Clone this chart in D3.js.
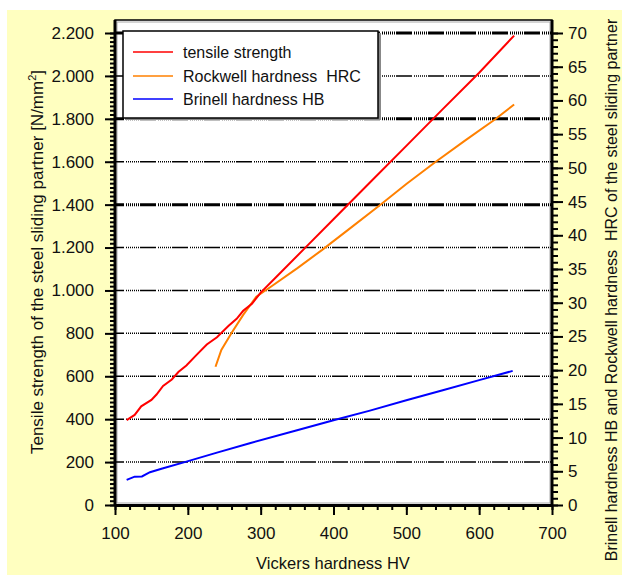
<!DOCTYPE html>
<html>
<head>
<meta charset="utf-8">
<script src="https://cdn.jsdelivr.net/npm/d3@7"></script>
<style>
  body { margin: 0; background: #fff; }
  svg text { font-family: "Liberation Sans", Arial, sans-serif; fill: #111; white-space: pre; }
</style>
</head>
<body>
<svg id="chart"></svg>
<script>
var width = 622
var height = 575

// tensile strength [N/mm2] vs Vickers HV (left axis)
var tensileHV = [116, 127, 136, 150, 157, 166, 178, 187, 198, 212, 226, 240, 256, 267, 276, 288, 300, 320, 360, 400, 450, 500, 550, 600, 648]
var tensile   = [396, 420, 460, 490, 515, 555, 585, 620, 650, 700, 748, 782, 835, 868, 905, 938, 990, 1058, 1195, 1332, 1503, 1674, 1845, 2015, 2188]

// Rockwell HRC (right axis)
var rockwellHV = [238, 246, 260, 276, 294, 313, 350, 384, 420, 464, 500, 539, 580, 622, 648]
var rockwell   = [20.5, 23, 25.5, 28.2, 30.9, 32.3, 35.1, 37.8, 40.8, 44.5, 47.6, 50.8, 54.0, 57.2, 59.4]

// Brinell HB (plotted on left axis scale)
var brinellHV = [116, 127, 137, 148, 165, 198, 240, 285, 350, 400, 450, 500, 550, 600, 646]
var brinell   = [117, 132, 133, 153, 170, 202, 244, 288, 348, 395, 440, 488, 535, 582, 625]

var xTicks = [100, 200, 300, 400, 500, 600, 700]
var leftTicks = [0, 200, 400, 600, 800, 1000, 1200, 1400, 1600, 1800, 2000, 2200]
var rightTicks = [0, 5, 10, 15, 20, 25, 30, 35, 40, 45, 50, 55, 60, 65, 70]
var gridValues = [200, 400, 600, 800, 1000, 1200, 1400, 1600, 1800, 2000, 2200]
var thickGrid = [1400, 1800, 2200]

var legendNames = ["tensile strength", "Rockwell hardness  HRC", "Brinell hardness HB"]
var legendColors = ["#ff0000", "#ff8000", "#0000ff"]

var pLeft = 115, pRight = 552, pTop = 20, pBottom = 505

var x = d3.scaleLinear().domain([100, 700]).range([pLeft, pRight])
var yL = d3.scaleLinear().domain([0, 2200]).range([pBottom, 33])
var yR = d3.scaleLinear().domain([0, 70]).range([pBottom, 33])

var de = d3.formatLocale({decimal: ",", thousands: ".", grouping: [3], currency: ["", ""]})

var svg = d3.select("#chart")
  .attr("width", width)
  .attr("height", height)

// yellow background
svg.append("rect")
  .attr("x", 7).attr("y", 10)
  .attr("width", width - 7).attr("height", height - 10)
  .attr("fill", "#ffffc0")

// plot area
svg.append("rect")
  .attr("x", pLeft).attr("y", pTop)
  .attr("width", pRight - pLeft).attr("height", pBottom - pTop)
  .attr("fill", "#fff")
  .attr("stroke", "#000")
  .attr("stroke-width", 1.5)
svg.append("rect")
  .attr("x", pLeft + 2).attr("y", pTop + 2)
  .attr("width", pRight - pLeft - 4).attr("height", pBottom - pTop - 4)
  .attr("fill", "none")
  .attr("stroke", "#aaa")
  .attr("stroke-width", 1)

// grid lines: dash + dotted pattern
svg.selectAll("line.grid")
  .data(gridValues)
  .enter().append("line")
  .attr("class", "grid")
  .attr("x1", pLeft).attr("x2", pRight)
  .attr("y1", function(d) { return yL(d) })
  .attr("y2", function(d) { return yL(d) })
  .attr("stroke", "#000")
  .attr("stroke-width", function(d) { return thickGrid.indexOf(d) >= 0 ? 3 : 1.5 })
  .attr("stroke-dasharray", "16,2,1,1,1,1,1,1,1,1,1,1,1,1,1,1")
  .attr("stroke-dashoffset", 7)

// lines
var line = function(xs, ys, yScale) {
  return d3.line()
    .x(function(d, i) { return x(xs[i]) })
    .y(function(d, i) { return yScale(ys[i]) })(xs)
}

svg.append("path")
  .attr("d", line(brinellHV, brinell, yL))
  .attr("fill", "none").attr("stroke", legendColors[2]).attr("stroke-width", 2)
svg.append("path")
  .attr("d", line(rockwellHV, rockwell, yR))
  .attr("fill", "none").attr("stroke", legendColors[1]).attr("stroke-width", 2)
svg.append("path")
  .attr("d", line(tensileHV, tensile, yL))
  .attr("fill", "none").attr("stroke", legendColors[0]).attr("stroke-width", 2)

// legend
svg.append("rect")
  .attr("x", 125).attr("y", 33).attr("width", 256).attr("height", 87)
  .attr("fill", "#888")
svg.append("rect")
  .attr("x", 123).attr("y", 31).attr("width", 255).attr("height", 87)
  .attr("fill", "#fff").attr("stroke", "#000").attr("stroke-width", 1.5)

var items = svg.selectAll("g.legend")
  .data(legendNames)
  .enter().append("g")
  .attr("class", "legend")
  .attr("transform", function(d, i) { return "translate(0," + [52, 76, 99][i] + ")" })
items.append("line")
  .attr("x1", 133).attr("x2", 173)
  .attr("stroke", function(d, i) { return legendColors[i] })
  .attr("stroke-width", 1.5)
items.append("text")
  .attr("x", 183).attr("y", 6)
  .attr("font-size", 16)
  .text(function(d) { return d })

// axes
var axisStyle = function(g, w) {
  g.select(".domain").attr("stroke-width", w)
  g.selectAll(".tick line").attr("stroke-width", 2)
  g.selectAll("text").attr("font-size", 17)
}

svg.append("g")
  .attr("transform", "translate(" + pLeft + ",0)")
  .call(d3.axisLeft(yL).tickValues(d3.range(0, 2201, 20)).tickSize(5).tickFormat("").tickSizeOuter(0))
  .call(function(g) { g.selectAll(".tick line").attr("stroke-width", 2) })
svg.append("g")
  .attr("transform", "translate(" + pLeft + ",0)")
  .call(d3.axisLeft(yL).tickValues(leftTicks).tickSize(10).tickPadding(11).tickFormat(de.format(",")).tickSizeOuter(0))
  .call(axisStyle, 3)
  .call(function(g) { g.select(".domain").attr("d", "M0," + pTop + "V" + pBottom) })

svg.append("g")
  .attr("transform", "translate(" + pRight + ",0)")
  .call(d3.axisRight(yR).tickValues(d3.range(0, 71, 1)).tickSize(6).tickFormat("").tickSizeOuter(0))
  .call(function(g) { g.selectAll(".tick line").attr("stroke-width", 2) })
svg.append("g")
  .attr("transform", "translate(" + pRight + ",0)")
  .call(d3.axisRight(yR).tickValues(rightTicks).tickSize(11).tickPadding(5).tickSizeOuter(0))
  .call(axisStyle, 3)
  .call(function(g) { g.select(".domain").attr("d", "M0," + pTop + "V" + pBottom) })

svg.append("g")
  .attr("transform", "translate(0," + pBottom + ")")
  .call(d3.axisBottom(x).tickValues(d3.range(100, 701, 20)).tickSize(5).tickFormat("").tickSizeOuter(0))
  .call(function(g) { g.selectAll(".tick line").attr("stroke-width", 2) })
svg.append("g")
  .attr("transform", "translate(0," + pBottom + ")")
  .call(d3.axisBottom(x).tickValues(xTicks).tickSize(10).tickPadding(12).tickSizeOuter(0))
  .call(axisStyle, 3)

svg.selectAll(".tick text").attr("fill", "#111")

// axis titles
svg.append("text")
  .attr("x", 333).attr("y", 569)
  .attr("text-anchor", "middle").attr("font-size", 16.5)
  .text("Vickers hardness HV")

var lt = svg.append("text")
  .attr("transform", "translate(43,262) rotate(-90)")
  .attr("text-anchor", "middle").attr("font-size", 17)
lt.append("tspan").text("Tensile strength of the steel sliding partner [N/mm")
lt.append("tspan").attr("font-size", 11).attr("dy", -7).text("2")
lt.append("tspan").attr("dy", 7).text("]")

svg.append("text")
  .attr("transform", "translate(617,290) rotate(-90)")
  .attr("text-anchor", "middle").attr("font-size", 16)
  .text("Brinell hardness HB and Rockwell hardness  HRC of the steel sliding partner")
</script>
</body>
</html>
